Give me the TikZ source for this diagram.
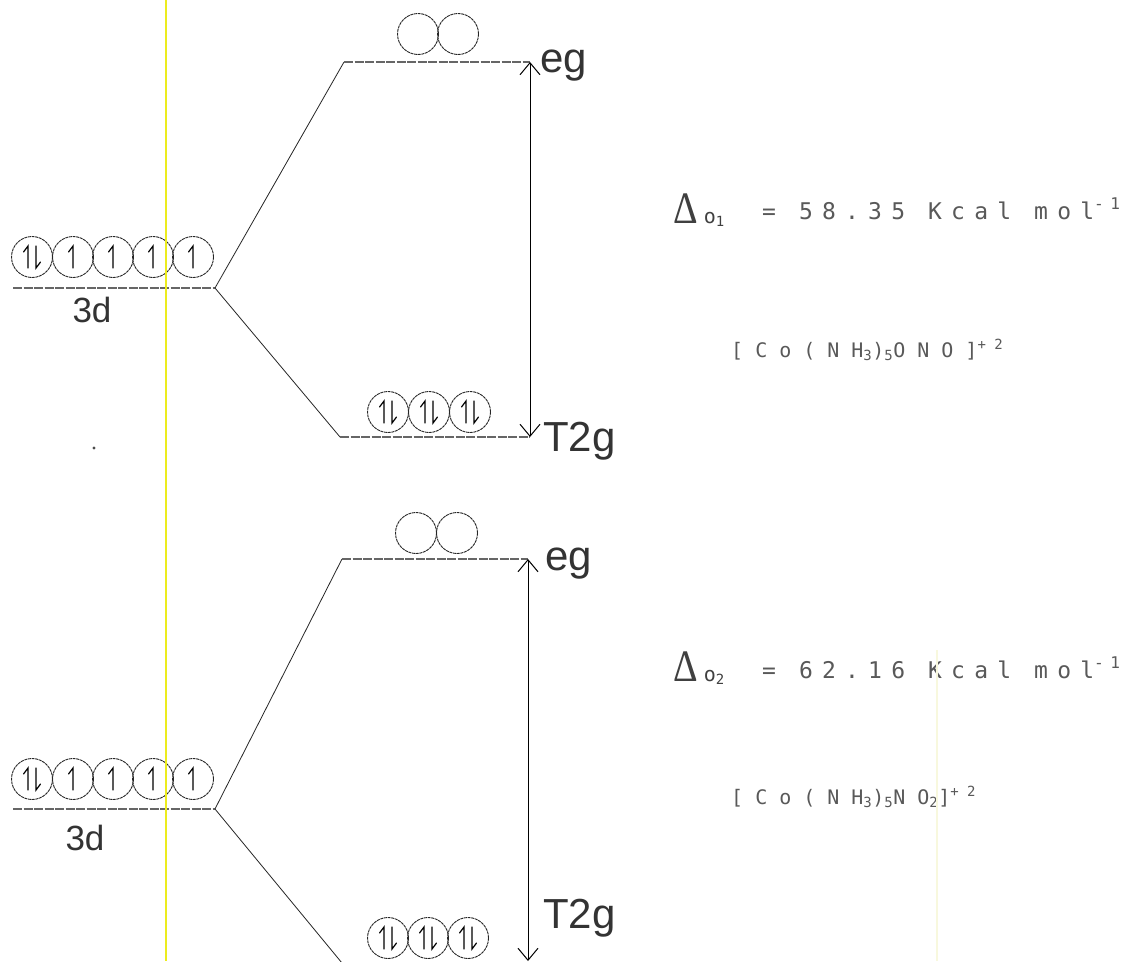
\documentclass[tikz,border=0pt]{standalone}
\usepackage{fontspec}
\usepackage{graphicx}
\setmainfont{Liberation Sans}
\newfontfamily\dotfont{DejaVu Sans Mono}[LetterSpace=40]
\newfontfamily\dotwide{DejaVu Sans Mono}[LetterSpace=60]
\newfontfamily\deltafont{Liberation Serif}
\usetikzlibrary{arrows.meta}
\definecolor{hilite}{RGB}{236,236,30}
\definecolor{faintyel}{RGB}{248,248,222}
\tikzset{
  orb/.style={circle, draw=black!85, line width=0.9pt, dash pattern=on 3pt off 0.7pt, minimum size=41pt, inner sep=0pt},
  level/.style={draw=black!60, line width=1.3pt, dash pattern=on 9pt off 1.5pt},
  split/.style={draw=black!85, line width=0.8pt},
  gap/.style={draw=black, line width=1pt, {Straight Barb[length=12pt,width=20pt]}-{Straight Barb[length=12pt,width=20pt]}},
  lab/.style={font=\fontsize{42}{42}\selectfont, text=black!80, inner sep=0pt},
  dlab/.style={font=\fontsize{35}{35}\selectfont, text=black!80, inner sep=0pt},
  big/.style={font=\dotfont\fontsize{23}{24}\selectfont, text=black!65, inner sep=0pt, anchor=base west},
  small/.style={font=\dotwide\fontsize{20}{21}\selectfont, text=black!65, inner sep=0pt, anchor=base west},
  delta/.style={text=black!75, inner sep=0pt, anchor=base west},
  spinup/.pic={\draw[line width=1.2pt, line cap=round] (0,11) -- (0,-11) -- (-4.5,-5);},
  spinpair/.pic={\draw[line width=1.2pt, line cap=round] (-4,11) -- (-4,-11) -- (-8.5,-5);
                 \draw[line width=1.2pt, line cap=round] (4,-11) -- (4,11) -- (8.5,5);}
}
\newcommand{\bigdelta}{\scalebox{0.85}[1]{\deltafont\fontsize{45}{45}\selectfont Δ}}
\begin{document}
\begin{tikzpicture}[x=1pt,y=-1pt]
\fill[white] (0,0) rectangle (1129,961);
\useasboundingbox (0,0) rectangle (1129,961);

% ---------- top diagram ----------
\coordinate (tdL) at (13,288);
\coordinate (tdR) at (215,288);
\coordinate (teL) at (344,62);
\coordinate (teR) at (530,62);
\coordinate (ttL) at (340,437);
\coordinate (ttR) at (530,437);
\draw[level] (tdL) -- (tdR);
\draw[split] (tdR) -- (teL);
\draw[split] (tdR) -- (ttL);
\draw[level] (teL) -- (teR);
\draw[level] (ttL) -- (ttR);
\draw[gap] (teR) -- (ttR);

\foreach \i/\x in {1/32,2/73,3/113,4/153,5/193} \node[orb] (ta\i) at (\x,257) {};
\pic at (ta1) {spinpair};
\foreach \i in {2,...,5} \pic at (ta\i) {spinup};
\foreach \i/\x in {1/418,2/458} \node[orb] (te\i) at (\x,34) {};
\foreach \i/\x in {1/388,2/429,3/470} {\node[orb] (tt\i) at (\x,412) {}; \pic at (tt\i) {spinpair};}

\node[dlab] (d3a) at (92,310) {3d};
\node[lab, anchor=base west] (ega) at (540,72) {eg};
\node[lab, anchor=base west] (tga) at (543,451) {T2g};

\node[delta] (da) at (673,223) {\bigdelta\kern6pt{\dotfont\fontsize{20}{20}\selectfont o\textsubscript{1}}};
\node[big] (va) at (762,219) {= 58.35 Kcal mol\textsuperscript{-1}};
\node[small] (ca) at (731,357) {[Co(NH\textsubscript{3})\textsubscript{5}ONO]\textsuperscript{+2}};

% ---------- bottom diagram ----------
\coordinate (bdL) at (13,809);
\coordinate (bdR) at (215,809);
\coordinate (beL) at (342,559);
\coordinate (beR) at (528,559);
\coordinate (btL) at (342,963);
\coordinate (btR) at (528,961);
\draw[level] (bdL) -- (bdR);
\draw[split] (bdR) -- (beL);
\draw[split] (bdR) -- (btL);
\draw[level] (beL) -- (beR);
\draw[gap] (beR) -- (btR);

\foreach \i/\x in {1/32,2/73,3/113,4/153,5/193} \node[orb] (ba\i) at (\x,779) {};
\pic at (ba1) {spinpair};
\foreach \i in {2,...,5} \pic at (ba\i) {spinup};
\foreach \i/\x in {1/416,2/457} \node[orb] (be\i) at (\x,533) {};
\foreach \i/\x in {1/388,2/428,3/468} {\node[orb] (bt\i) at (\x,938) {}; \pic at (bt\i) {spinpair};}

\node[dlab] (d3b) at (85,838) {3d};
\node[lab, anchor=base west] (egb) at (545,570) {eg};
\node[lab, anchor=base west] (tgb) at (543,928) {T2g};

\node[delta] (db) at (673,681) {\bigdelta\kern6pt{\dotfont\fontsize{20}{20}\selectfont o\textsubscript{2}}};
\node[big] (vb) at (762,678) {= 62.16 Kcal mol\textsuperscript{-1}};
\node[small] (cb) at (731,804) {[Co(NH\textsubscript{3})\textsubscript{5}NO\textsubscript{2}]\textsuperscript{+2}};

% ---------- scan marks ----------
\draw[faintyel, line width=2pt] (937,650) -- (937,961);
\draw[hilite, line width=2.5pt] (166,0) -- (166,961);
\fill[black!70] (94,448) circle (1.6);
\end{tikzpicture}
\end{document}
